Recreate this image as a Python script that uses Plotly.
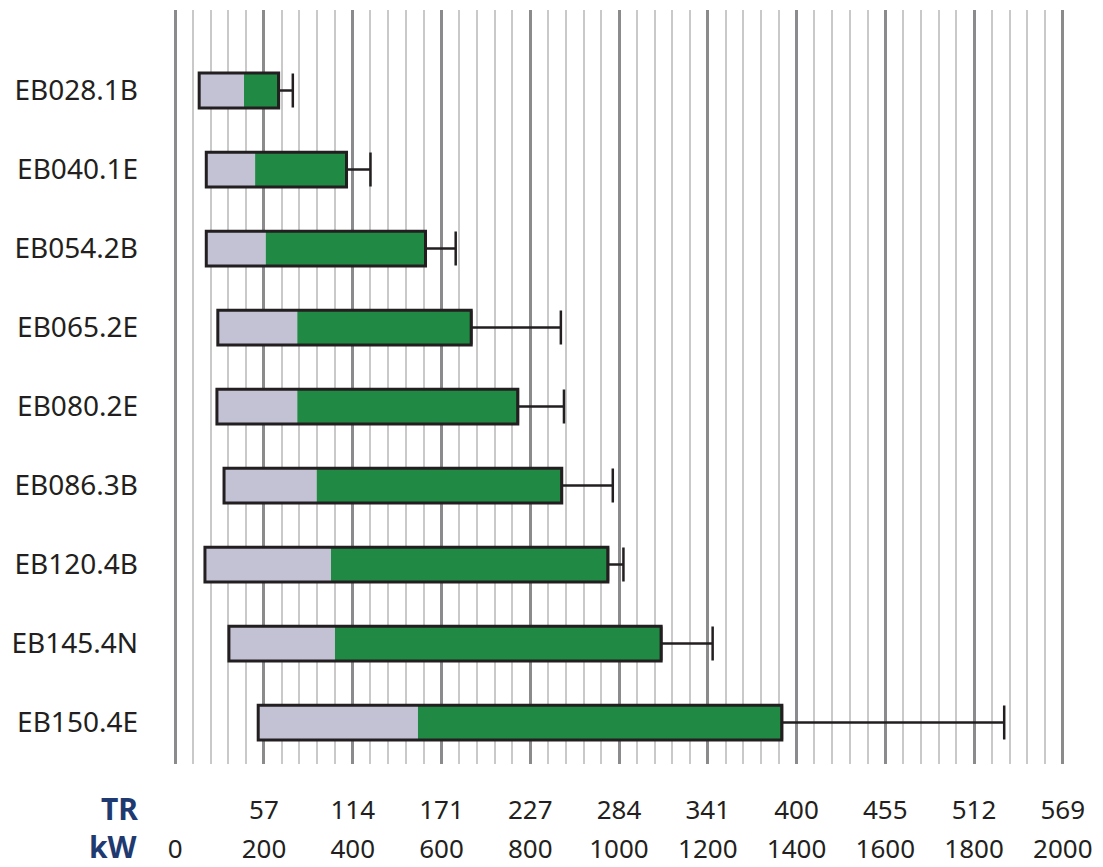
import plotly.graph_objects as go

models = ["EB028.1B", "EB040.1E", "EB054.2B", "EB065.2E", "EB080.2E",
          "EB086.3B", "EB120.4B", "EB145.4N", "EB150.4E"]
range_start = [54, 70, 70, 96, 94, 110, 67, 121, 187]
green_start = [155, 180, 204, 275, 275, 319, 351, 360, 547]
range_end = [233, 386, 564, 667, 772, 871, 975, 1095, 1367]
whisker_end = [265, 440, 632, 869, 876, 986, 1010, 1211, 1868]

kw_ticks = [0, 200, 400, 600, 800, 1000, 1200, 1400, 1600, 1800, 2000]
tr_labels = ["", "57", "114", "171", "227", "284", "341", "400", "455", "512", "569"]

FONT = "Noto Sans"
DARK = "#231f20"
GREY = "#c3c2d5"
GREEN = "#208a44"
BLUE = "#1f3a70"

fig = go.Figure()

fig.add_trace(go.Bar(
    y=models, x=[g - s for s, g in zip(range_start, green_start)], base=range_start,
    orientation="h", width=0.44, marker=dict(color=GREY, line=dict(width=0)),
    showlegend=False, hoverinfo="skip"))
fig.add_trace(go.Bar(
    y=models, x=[e - g for g, e in zip(green_start, range_end)], base=green_start,
    orientation="h", width=0.44, marker=dict(color=GREEN, line=dict(width=0)),
    showlegend=False, hoverinfo="skip"))
fig.add_trace(go.Bar(
    y=models, x=[e - s for s, e in zip(range_start, range_end)], base=range_start,
    orientation="h", width=0.44,
    marker=dict(color="rgba(0,0,0,0)", line=dict(color=DARK, width=3)),
    showlegend=False, hoverinfo="skip"))
fig.add_trace(go.Scatter(
    y=models, x=range_end, mode="markers",
    marker=dict(size=1, color="rgba(0,0,0,0)"),
    error_x=dict(type="data", symmetric=False,
                 array=[w - e for e, w in zip(range_end, whisker_end)],
                 arrayminus=[0] * len(models),
                 color=DARK, thickness=2.5, width=17),
    showlegend=False, hoverinfo="skip"))
# dummy trace to activate second x axis (TR labels)
fig.add_trace(go.Scatter(x=[None], y=[None], xaxis="x2", showlegend=False, hoverinfo="skip"))

fig.update_layout(
    width=1095, height=859,
    margin=dict(l=165, r=38, t=2, b=103),
    paper_bgcolor="white", plot_bgcolor="white",
    barmode="overlay",
    font=dict(family=FONT, size=27, color=DARK),
    xaxis=dict(
        range=[-5, 2005], tickmode="array", tickvals=kw_ticks,
        ticktext=[str(v) for v in kw_ticks],
        showgrid=True, gridcolor="#8b8b8d", gridwidth=2.5,
        zeroline=False, showline=False, ticks="",
        ticklabelstandoff=67, automargin=False,
        tickfont=dict(family=FONT, size=26, color=DARK),
        minor=dict(dtick=40, tick0=0, showgrid=True, gridcolor="#c9c9c9", gridwidth=1.5, ticks=""),
        layer="below traces",
    ),
    xaxis2=dict(
        overlaying="x", side="bottom", anchor="y",
        range=[-5, 2005], tickmode="array", tickvals=kw_ticks, ticktext=tr_labels,
        showgrid=False, zeroline=False, showline=False, ticks="",
        ticklabelstandoff=28, automargin=False,
        tickfont=dict(family=FONT, size=26, color=DARK),
    ),
    yaxis=dict(
        categoryorder="array", categoryarray=models,
        range=[8.525, -1.019],
        showgrid=False, zeroline=False, showline=False,
        ticks="", ticklabelstandoff=34, automargin=False,
        tickfont=dict(family=FONT, size=28, color=DARK),
    ),
    annotations=[
        dict(text="<b>TR</b>", xref="paper", yref="paper", x=-0.037, y=-0.059,
             xanchor="right", yanchor="middle", showarrow=False,
             font=dict(family=FONT, size=30, color=BLUE)),
        dict(text="<b>kW</b>", xref="paper", yref="paper", x=-0.037, y=-0.110,
             xanchor="right", yanchor="middle", showarrow=False,
             font=dict(family=FONT, size=30, color=BLUE)),
    ],
)

fig.write_html("out.html")
